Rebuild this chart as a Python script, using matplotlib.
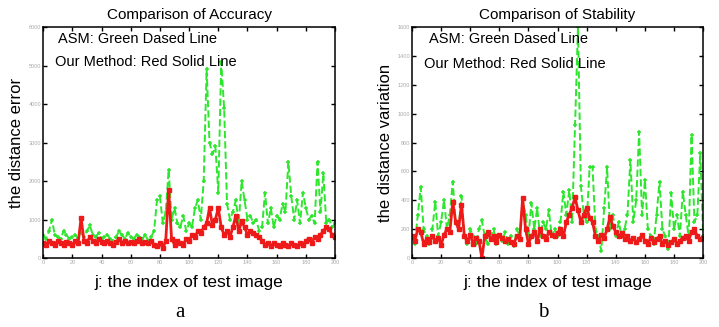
import matplotlib
matplotlib.use("Agg")
import matplotlib.pyplot as plt

plt.rcParams['font.family'] = ['Liberation Sans', 'DejaVu Sans']

# test image index (every second image)
idx = list(range(0, 201, 2))

# (a) distance error
acc_asm = [600, 500, 700, 1000, 600, 550, 500, 700, 600, 500, 550, 600, 500, 650, 550, 700, 850,
           600, 550, 650, 500, 550, 600, 500, 450, 550, 700, 600, 500, 650, 550, 500, 600, 550,
           500, 600, 450, 550, 700, 1500, 1600, 900, 1200, 2300, 1000, 1300, 900, 800, 1100, 700,
           900, 800, 1300, 1500, 1000, 2000, 4900, 3000, 2700, 2900, 1700, 5100, 3900, 1400, 1000,
           1200, 1500, 900, 2000, 1500, 1000, 1100, 900, 1000, 700, 800, 1700, 900, 1300, 800,
           1100, 1000, 1400, 1200, 2500, 1600, 1000, 1500, 900, 1700, 1300, 1000, 1100, 900, 2500,
           1200, 2200, 900, 1000, 800, 900]
acc_ours = [400, 350, 450, 400, 350, 450, 400, 350, 420, 380, 350, 450, 400, 1040, 450, 400, 550,
            450, 400, 500, 420, 380, 450, 400, 350, 420, 500, 400, 450, 380, 420, 400, 450, 500,
            400, 420, 380, 450, 350, 300, 400, 250, 450, 1770, 500, 350, 450, 400, 350, 500, 450,
            600, 550, 700, 650, 800, 900, 1300, 850, 1000, 1300, 800, 600, 700, 550, 800, 1100,
            700, 950, 800, 600, 700, 650, 600, 550, 450, 350, 400, 300, 400, 350, 300, 400, 350,
            300, 400, 350, 300, 400, 350, 450, 500, 400, 550, 500, 600, 700, 800, 750, 600, 550]

# (b) distance variation
stab_asm = [150, 100, 300, 490, 200, 150, 100, 200, 390, 150, 250, 400, 200, 300, 530, 250, 200,
            430, 150, 100, 200, 150, 100, 200, 260, 150, 100, 150, 200, 100, 150, 120, 180, 100,
            150, 80, 200, 150, 400, 300, 150, 380, 200, 345, 150, 250, 200, 330, 150, 200, 150,
            250, 460, 300, 470, 250, 920, 1600, 500, 300, 250, 630, 630, 200, 150, 50, 345, 630,
            200, 300, 150, 250, 150, 200, 300, 680, 250, 400, 875, 300, 540, 200, 150, 100, 300,
            530, 200, 150, 60, 450, 200, 300, 150, 460, 300, 150, 850, 250, 300, 730, 150]
stab_ours = [150, 120, 200, 180, 100, 130, 110, 150, 120, 140, 90, 160, 200, 180, 390, 250, 200,
             370, 150, 120, 160, 100, 140, 120, 0, 150, 180, 130, 150, 110, 160, 140, 120, 130,
             110, 100, 150, 130, 415, 200, 100, 150, 180, 120, 200, 150, 130, 180, 160, 150, 170,
             200, 150, 250, 300, 350, 420, 330, 250, 300, 350, 280, 250, 150, 120, 160, 140, 200,
             286, 220, 180, 150, 170, 130, 150, 120, 140, 110, 130, 160, 120, 100, 140, 110, 130,
             150, 100, 120, 90, 110, 130, 100, 120, 140, 150, 120, 180, 200, 150, 130, 140]

green = '#2ee62e'
red = '#ee1a1a'

fig = plt.figure(figsize=(7.19, 3.27), dpi=100)
ax1 = fig.add_axes([0.060, 0.211, 0.406, 0.706])
ax2 = fig.add_axes([0.573, 0.211, 0.405, 0.706])

panels = [
    (ax1, acc_asm, acc_ours, 'Comparison of Accuracy', 'the distance error',
     6000, range(0, 6001, 1000), 'a', 0.47, (0.05, 0.95), (0.04, 0.85)),
    (ax2, stab_asm, stab_ours, 'Comparison of Stability', 'the distance variation',
     1600, range(0, 1601, 200), 'b', 0.45, (0.06, 0.95), (0.04, 0.84)),
]

for ax, asm, ours, title, ylab, ymax, yt, letter, lx, p1, p2 in panels:
    ax.plot(idx, asm, color=green, linestyle='--', linewidth=1.4,
            marker='+', markersize=3.5, markeredgewidth=1.1)
    ax.plot(idx, ours, color=red, linestyle='-', linewidth=2.0,
            marker='s', markersize=2.5)
    ax.set_xlim(0, 200)
    ax.set_ylim(0, ymax)
    ax.set_xticks(range(0, 201, 20))
    ax.set_yticks(list(yt))
    ax.tick_params(direction='in', top=True, right=True, length=3, width=1,
                   labelsize=4, labelcolor='#aaaaaa', pad=1.5)
    for s in ax.spines.values():
        s.set_linewidth(1.1)
    ax.set_title(title, fontsize=11, pad=6)
    ax.set_ylabel(ylab, fontsize=12, labelpad=3)
    ax.set_xlabel('j: the index of test image', fontsize=12.5, labelpad=7)
    ax.text(p1[0], p1[1], 'ASM: Green Dased Line', transform=ax.transAxes,
            fontsize=10.5, va='center')
    ax.text(p2[0], p2[1], 'Our Method: Red Solid Line', transform=ax.transAxes,
            fontsize=10.5, va='center')
    ax.text(lx, -0.235, letter, transform=ax.transAxes, fontsize=15,
            family=['Liberation Serif', 'DejaVu Serif'], ha='center', va='center')

fig.savefig('out.png', dpi=100)
